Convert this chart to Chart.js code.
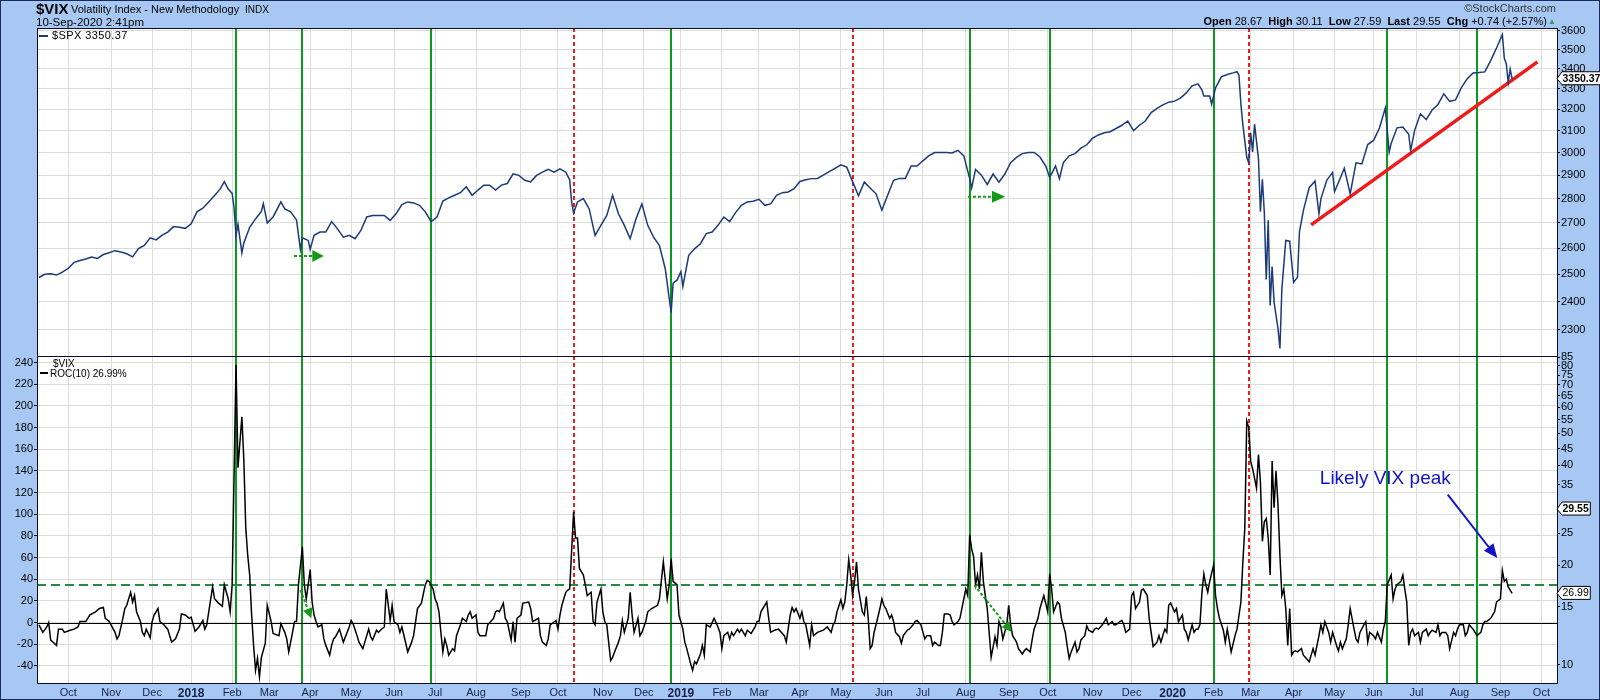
<!DOCTYPE html>
<html><head><meta charset="utf-8">
<script src="https://cdn.jsdelivr.net/npm/chart.js@4.4.1/dist/chart.umd.min.js"></script>
<style>
html,body{margin:0;padding:0;}
body{width:1600px;height:700px;background:#a7c8f2;position:relative;overflow:hidden;font-family:"Liberation Sans",Arial,sans-serif;}
#frame{position:absolute;left:0;top:0;width:1598px;height:698px;border:1px solid #1b2a5c;}
canvas{position:absolute;left:0;top:0;}
.t{position:absolute;white-space:nowrap;color:#000;line-height:1;z-index:5;}
</style></head><body>
<div id="frame"></div>
<canvas id="bot" width="1600" height="700"></canvas>
<canvas id="top" width="1600" height="700"></canvas>
<div class="t" style="left:36px;top:1px;font-size:15px;font-weight:bold">$VIX</div>
<div class="t" style="left:71px;top:4px;font-size:11px">Volatility Index - New Methodology</div>
<div class="t" style="left:245px;top:5px;font-size:10px">INDX</div>
<div class="t" style="left:36px;top:17px;font-size:11.5px">10-Sep-2020 2:41pm</div>
<div class="t" style="right:44px;top:3px;font-size:11px;color:#333">©StockCharts.com</div>
<div class="t" style="right:53px;top:16px;font-size:11px"><b>Open</b> 28.67 &nbsp;<b>High</b> 30.11 &nbsp;<b>Low</b> 27.59 &nbsp;<b>Last</b> 29.55 &nbsp;<b>Chg</b> +0.74 (+2.57%)</div>
<div class="t" style="left:1548px;top:18px;font-size:8px;color:#2f9a6a">▲</div>
<div class="t" style="left:39px;top:35px;width:9px;height:2px;background:#1b3a78"></div>
<div class="t" style="left:52px;top:30px;font-size:11px;letter-spacing:0.4px">$SPX 3350.37</div>
<div class="t" style="left:53px;top:359px;font-size:10px">$VIX</div>
<div class="t" style="left:40px;top:372px;width:8px;height:2px;background:#000"></div>
<div class="t" style="left:50px;top:369px;font-size:10px">ROC(10) 26.99%</div>
<script>
// ---------- calendar (trading days) ----------
const holidays = ['2017-11-23','2017-12-25','2018-01-01','2018-01-15','2018-02-19','2018-03-30','2018-05-28','2018-07-04','2018-09-03','2018-11-22','2018-12-05','2018-12-25','2019-01-01','2019-01-21','2019-02-18','2019-04-19','2019-05-27','2019-07-04','2019-09-02','2019-11-28','2019-12-25','2020-01-01','2020-01-20','2020-02-17','2020-04-10','2020-05-25','2020-07-03','2020-09-07'];
function buildCalendar(){
  const out=[]; let t=Date.UTC(2017,8,11); const end=Date.UTC(2020,9,30);
  while(t<=end){ const d=new Date(t); const wd=d.getUTCDay(); const s=d.toISOString().slice(0,10);
    if(wd!==0&&wd!==6&&!holidays.includes(s)) out.push(s); t+=86400000; }
  return out;
}
const calendar = buildCalendar();
const dayIndex = s => calendar.indexOf(s);
const monthNames=['Jan','Feb','Mar','Apr','May','Jun','Jul','Aug','Sep','Oct','Nov','Dec'];
const monthTicks=[]; const monthLabel={}; const isYear={};
for(let i=1;i<calendar.length;i++){
  if(calendar[i].slice(0,7)!==calendar[i-1].slice(0,7)){
    const m=+calendar[i].slice(5,7);
    monthTicks.push(i); monthLabel[i]= m===1?calendar[i].slice(0,4):monthNames[m-1]; isYear[i]=(m===1);
  }
}
const xMin=-1, xMax=778;

// ---------- data: [trading day since 2017-09-11, value] ----------
const spxSeries=[[0,2488],[3,2500],[6,2502],[9,2497],[12,2508],[15,2522],[18,2545],[21,2552],[24,2558],[27,2565],[30,2560],[33,2575],[36,2582],[39,2590],[42,2585],[45,2578],[48,2566],[51,2598],[54,2610],[57,2640],[60,2632],[63,2650],[66,2663],[69,2685],[72,2682],[75,2678],[78,2696],[81,2745],[84,2760],[87,2786],[90,2813],[93,2842],[95,2872],[97,2840],[99,2822],[100,2762],[101,2649],[102,2695],[104,2581],[105,2620],[108,2682],[111,2716],[114,2747],[115,2779],[117,2700],[120,2724],[124,2786],[126,2757],[129,2745],[132,2712],[134,2595],[135,2640],[138,2630],[139,2595],[141,2650],[144,2663],[147,2663],[150,2705],[153,2676],[156,2643],[159,2650],[162,2637],[165,2670],[168,2724],[171,2730],[174,2730],[177,2730],[180,2710],[183,2737],[186,2775],[189,2786],[192,2782],[195,2772],[198,2745],[201,2705],[204,2724],[207,2790],[210,2803],[213,2814],[216,2825],[219,2850],[222,2814],[225,2836],[228,2857],[231,2857],[234,2836],[237,2857],[240,2864],[243,2906],[246,2899],[249,2878],[252,2871],[255,2899],[258,2913],[261,2925],[264,2913],[267,2928],[270,2913],[272,2880],[273,2786],[274,2740],[276,2786],[279,2800],[282,2757],[285,2650],[288,2690],[291,2730],[294,2814],[297,2737],[300,2690],[303,2637],[306,2717],[309,2778],[312,2690],[315,2643],[318,2610],[321,2520],[324,2360],[325,2467],[327,2478],[329,2510],[330,2455],[333,2572],[336,2597],[339,2617],[342,2657],[345,2663],[348,2690],[351,2724],[354,2705],[357,2742],[360,2772],[363,2786],[366,2789],[369,2797],[372,2772],[375,2778],[378,2814],[381,2825],[384,2828],[387,2842],[390,2873],[393,2880],[396,2885],[399,2886],[402,2900],[405,2915],[408,2930],[411,2945],[414,2935],[417,2872],[420,2812],[423,2870],[426,2845],[429,2820],[432,2752],[435,2815],[438,2878],[441,2886],[444,2886],[447,2940],[450,2940],[453,2963],[456,2985],[459,3000],[462,3000],[465,3000],[468,2998],[471,3010],[474,2985],[477,2885],[478,2845],[480,2925],[483,2900],[486,2860],[489,2905],[492,2870],[495,2905],[498,2955],[501,2978],[504,2995],[507,3000],[510,3000],[513,2980],[516,2940],[518,2890],[521,2940],[523,2885],[525,2955],[528,2985],[531,2995],[534,3020],[537,3035],[540,3065],[543,3080],[546,3090],[549,3095],[552,3110],[555,3125],[558,3145],[561,3100],[564,3125],[567,3145],[570,3185],[573,3205],[576,3222],[579,3235],[582,3240],[585,3255],[588,3280],[591,3315],[594,3325],[596,3295],[597,3265],[600,3265],[601,3225],[603,3305],[606,3360],[609,3372],[612,3380],[614,3386],[615,3368],[616,3225],[617,3128],[619,2979],[620,2954],[621,3090],[622,3003],[623,3130],[625,2972],[626,2746],[627,2882],[628,2741],[629,2481],[630,2711],[631,2386],[632,2529],[633,2398],[635,2305],[636,2237],[637,2447],[639,2630],[641,2627],[643,2470],[645,2489],[646,2664],[648,2750],[651,2846],[654,2875],[656,2737],[657,2799],[660,2878],[663,2912],[664,2830],[666,2868],[669,2930],[672,2820],[675,2954],[678,2949],[681,3036],[684,3055],[687,3112],[690,3207],[692,3002],[693,3041],[696,3113],[699,3117],[702,3083],[703,3009],[705,3100],[708,3179],[711,3152],[714,3197],[717,3224],[720,3276],[723,3239],[726,3246],[729,3306],[732,3351],[735,3380],[738,3382],[741,3385],[744,3443],[747,3508],[750,3580],[751,3455],[752,3427],[753,3332],[754,3399],[755,3350]];

const rocSeries=[[0,-2],[2,-9],[4,-4],[5,0],[6,-16],[9,-21],[10,-6],[12,-6],[13,-9],[16,-7],[18,-6],[20,-4],[21,1],[24,1],[25,4],[26,7],[29,10],[31,13],[33,14],[34,4],[36,1],[39,-9],[40,-15],[41,-12],[43,4],[44,13],[45,16],[47,28],[48,19],[49,25],[50,10],[52,1],[53,-9],[54,-12],[55,-6],[57,-14],[58,1],[59,7],[61,13],[62,1],[64,-2],[66,-6],[68,-18],[70,-15],[72,-6],[73,8],[75,7],[77,4],[78,5],[80,-8],[82,-4],[84,2],[85,-6],[86,-2],[89,33],[90,22],[92,18],[94,15],[95,35],[97,22],[98,10],[99,35],[101,238],[102,143],[104,190],[105,150],[106,87],[107,62],[108,44],[109,7],[110,-21],[111,-44],[112,-33],[113,-50],[114,-32],[116,-19],[117,16],[119,1],[120,-10],[123,-12],[124,-1],[126,-9],[127,-15],[128,-27],[129,-18],[131,1],[132,1],[133,35],[135,70],[136,35],[137,22],[138,35],[139,49],[140,19],[141,7],[142,1],[143,-4],[145,-2],[146,-15],[147,-21],[149,-30],[150,-21],[151,-15],[152,-13],[154,-6],[156,-18],[159,-4],[160,2],[161,-1],[163,-12],[164,-18],[166,-24],[167,-18],[169,-6],[170,-13],[171,-16],[173,-7],[174,-9],[175,-7],[177,-4],[178,31],[180,2],[181,16],[182,1],[184,-2],[185,-9],[186,-4],[188,-19],[189,-27],[191,-18],[192,-12],[194,13],[196,18],[198,35],[199,39],[200,38],[202,31],[203,22],[204,18],[205,10],[206,-9],[207,-27],[208,-15],[209,-21],[210,-30],[212,-24],[213,-26],[214,-12],[216,-2],[217,4],[219,1],[220,7],[221,10],[222,4],[224,7],[225,-9],[226,-12],[229,-12],[230,-2],[233,4],[234,10],[235,11],[236,10],[238,18],[239,4],[240,1],[242,-16],[243,1],[244,-18],[245,4],[247,7],[248,18],[251,19],[252,13],[253,1],[256,4],[257,-12],[258,-18],[260,-21],[261,-15],[262,-2],[265,2],[266,-6],[267,7],[268,16],[270,28],[271,30],[272,31],[274,102],[275,78],[276,78],[277,50],[279,44],[280,35],[281,25],[283,28],[284,1],[285,-2],[286,19],[288,31],[289,10],[290,1],[291,-2],[293,-35],[294,-32],[295,-27],[297,-18],[298,-12],[299,2],[300,-9],[302,4],[303,28],[304,7],[305,-9],[307,4],[308,-12],[309,-9],[311,1],[312,10],[314,13],[317,16],[318,22],[320,56],[322,22],[323,35],[324,59],[325,38],[327,35],[328,7],[330,-6],[331,-18],[332,-24],[334,-38],[335,-44],[336,-36],[337,-38],[339,-29],[340,-21],[341,-30],[342,-2],[344,-4],[346,4],[348,-4],[349,-9],[350,-24],[351,-12],[353,-9],[354,-15],[355,-9],[356,-12],[358,-6],[359,-9],[360,-6],[362,-12],[363,-7],[365,-10],[367,-4],[368,1],[369,1],[370,10],[373,19],[374,4],[375,-9],[377,-7],[379,-6],[381,-10],[382,-12],[383,-18],[385,7],[386,14],[387,10],[388,13],[390,4],[391,10],[392,1],[393,-2],[395,-21],[396,-2],[397,-12],[399,-9],[402,-7],[404,-4],[406,-9],[407,-2],[408,1],[409,10],[411,21],[412,13],[413,19],[414,35],[415,58],[416,44],[417,25],[418,38],[419,56],[420,31],[422,10],[423,7],[424,24],[425,4],[426,-24],[427,-21],[428,-9],[429,-2],[431,13],[432,22],[433,16],[434,13],[436,4],[437,7],[438,1],[439,-9],[441,-13],[442,-19],[443,-12],[445,-7],[446,-6],[448,-2],[449,1],[450,2],[452,-2],[454,-15],[455,-12],[457,-12],[458,-21],[459,-18],[461,-21],[462,-21],[463,-9],[464,8],[466,8],[467,7],[468,1],[469,-2],[471,1],[472,4],[473,13],[475,31],[476,25],[477,81],[478,68],[479,61],[480,35],[481,44],[482,31],[483,65],[484,38],[485,25],[486,13],[488,-32],[490,-13],[491,-21],[492,1],[493,-4],[494,-15],[496,-2],[497,16],[498,-2],[499,-12],[501,-18],[502,-24],[504,-29],[505,-26],[506,-24],[508,-27],[509,-16],[510,-6],[512,4],[513,13],[514,19],[515,25],[517,10],[518,45],[519,31],[520,10],[522,19],[523,17],[524,4],[526,-9],[527,-22],[528,-33],[529,-27],[531,-18],[532,-27],[533,-24],[534,-16],[536,-12],[537,-3],[538,-7],[540,-9],[541,-6],[542,-5],[543,-6],[545,-2],[546,1],[547,4],[548,-2],[550,1],[551,-2],[552,-2],[554,1],[555,2],[556,-2],[557,-9],[559,-6],[560,25],[561,28],[562,13],[564,19],[565,30],[566,31],[568,25],[569,4],[570,-9],[571,-22],[573,-18],[574,-12],[575,-18],[577,-6],[578,-9],[579,16],[580,18],[582,10],[583,13],[584,1],[586,7],[587,-6],[588,-9],[589,-16],[591,-2],[592,-9],[593,-6],[594,-6],[595,-2],[596,27],[597,45],[598,35],[599,28],[600,38],[602,53],[603,25],[604,13],[605,4],[607,-7],[608,-18],[609,-6],[610,-16],[611,-27],[613,-12],[614,-6],[616,19],[617,56],[618,87],[619,186],[620,180],[621,149],[622,142],[624,124],[625,155],[626,130],[627,75],[628,93],[629,96],[630,78],[631,44],[632,149],[633,106],[634,140],[635,109],[636,62],[637,25],[638,31],[639,13],[640,-21],[641,13],[642,-30],[643,-27],[644,-26],[645,-27],[647,-24],[648,-30],[649,-32],[651,-36],[652,-30],[653,-24],[654,-30],[656,-12],[657,-2],[658,-9],[659,1],[661,-9],[662,-18],[663,-9],[665,-21],[666,-26],[667,-18],[668,-24],[670,-15],[671,-2],[672,13],[674,-6],[675,-15],[676,-18],[677,-9],[679,-2],[680,1],[681,-18],[682,-9],[684,-12],[685,-15],[686,-9],[688,-18],[689,-6],[690,1],[691,35],[693,44],[694,22],[695,31],[696,35],[698,38],[699,44],[700,31],[701,19],[702,-21],[703,-9],[704,-6],[705,-12],[707,-9],[708,-18],[709,-9],[711,-6],[712,-12],[713,-9],[714,-7],[716,-9],[717,-2],[718,-12],[719,-9],[721,-9],[722,-12],[723,-24],[725,-9],[726,-12],[727,-6],[728,-2],[730,-2],[731,-12],[732,-9],[733,-2],[735,-6],[736,-9],[737,-12],[739,-9],[740,-2],[741,1],[742,1],[744,4],[745,7],[746,10],[747,19],[749,22],[750,48],[751,38],[752,40],[753,33],[754,30],[755,27]];

const spxTicks=[2300,2400,2500,2600,2700,2800,2900,3000,3100,3200,3300,3400,3500,3600];
const rocTicks=[-40,-20,0,20,40,60,80,100,120,140,160,180,200,220,240];
const vixTicks=[10,15,20,25,35,40,45,50,55,60,65,70,75,80,85];
const spxLast=3350.37, vixLast=29.55, rocLast=26.99;
const rocSignal=35;
const eventDates=['2018-02-05','2018-03-26','2018-06-28','2018-10-11','2018-12-24','2019-05-09','2019-08-05','2019-10-02','2020-02-03','2020-02-28','2020-06-10','2020-08-14'];
const eventKinds=['g','g','g','r','g','r','g','g','g','r','g','g'];
const trendDays=[652,768], trendVals=[2692,3436];
const spxArrows=[[130.7,140.1,146,2569],[476.1,488.4,495.2,2808]];
const rocArrows=[[134,30,139.6,4],[479.4,34.5,498.5,-8.7]];
const noteText='Likely VIX peak', notePos=[690,133], noteArrow=[722,118,747.4,59.6];

// ---------- drawing helpers ----------
const FONT='"Liberation Sans", Arial, sans-serif';
const GRID='#dcdcdc';
function arrow(ctx,x1,y1,x2,y2,color,width,dash,head,half){
  const a=Math.atan2(y2-y1,x2-x1);
  const hx=x2-head*Math.cos(a), hy=y2-head*Math.sin(a);
  ctx.save(); ctx.strokeStyle=color; ctx.fillStyle=color; ctx.lineWidth=width; ctx.setLineDash(dash);
  ctx.beginPath(); ctx.moveTo(x1,y1); ctx.lineTo(hx,hy); ctx.stroke(); ctx.setLineDash([]);
  ctx.beginPath(); ctx.moveTo(x2,y2);
  ctx.lineTo(hx+half*Math.sin(a),hy-half*Math.cos(a)); ctx.lineTo(hx-half*Math.sin(a),hy+half*Math.cos(a));
  ctx.closePath(); ctx.fill(); ctx.restore();
}
function valueBox(ctx,x,y,text,bold){
  ctx.save(); ctx.font=(bold?'bold ':'')+'10.5px '+FONT;
  const w=ctx.measureText(text).width;
  ctx.beginPath(); ctx.moveTo(x,y); ctx.lineTo(x+5,y-7); ctx.lineTo(x+7+w,y-7); ctx.lineTo(x+7+w,y+6); ctx.lineTo(x+5,y+6); ctx.closePath();
  ctx.fillStyle='#fff'; ctx.fill(); ctx.strokeStyle='#000'; ctx.lineWidth=1; ctx.stroke();
  ctx.fillStyle='#000'; ctx.textBaseline='middle'; ctx.fillText(text,x+5.5,y); ctx.restore();
}
const framePlugin={id:'frame',
  beforeDraw(c){const a=c.chartArea,ctx=c.ctx;ctx.save();ctx.fillStyle='#fff';ctx.fillRect(a.left,a.top,a.right-a.left,a.bottom-a.top);ctx.restore();},
  afterDraw(c){const a=c.chartArea,ctx=c.ctx;ctx.save();ctx.strokeStyle='#0a0a2a';ctx.lineWidth=1;
    ctx.strokeRect(Math.round(a.left)+0.5,Math.round(a.top)+0.5,Math.round(a.right-a.left),Math.round(a.bottom-a.top));ctx.restore();}
};
const eventPlugin={id:'events',
  beforeDatasetsDraw(c){const a=c.chartArea,ctx=c.ctx;ctx.save();ctx.lineWidth=2;
    eventDates.forEach((d,i)=>{const x=Math.round(c.scales.x.getPixelForValue(dayIndex(d)));
      ctx.beginPath(); if(eventKinds[i]==='r'){ctx.strokeStyle='#e3211c';ctx.setLineDash([4,3]);}else{ctx.strokeStyle='#0b9a1e';ctx.setLineDash([]);}
      ctx.moveTo(x,a.top);ctx.lineTo(x,a.bottom);ctx.stroke();});
    ctx.restore();}
};
const xTicksBuild=s=>{s.ticks=monthTicks.map(v=>({value:v}));};

// ---------- top panel: $SPX ----------
const topAnno={id:'topAnno',
  afterDatasetsDraw(c){const ctx=c.ctx,X=c.scales.x,Y=c.scales.y;
    spxArrows.forEach(a=>{const y=Y.getPixelForValue(a[3]);
      arrow(ctx,X.getPixelForValue(a[0]),y,X.getPixelForValue(a[2]),y,'#14991a',2,[3,2],X.getPixelForValue(a[2])-X.getPixelForValue(a[1]),6);});},
  afterDraw(c){valueBox(c.ctx,c.chartArea.right,c.scales.y.getPixelForValue(spxLast),spxLast.toFixed(2),true);}
};
new Chart(document.getElementById('top'),{
  type:'line',
  data:{datasets:[
    {data:spxSeries.map(p=>({x:p[0],y:p[1]})),borderColor:'#1b3a78',borderWidth:1.5,pointRadius:0,tension:0},
    {data:trendDays.map((d,i)=>({x:d,y:trendVals[i]})),borderColor:'#f01a1a',borderWidth:3.5,pointRadius:0}
  ]},
  options:{responsive:false,animation:false,devicePixelRatio:1,
    layout:{padding:{left:37,top:28,right:0,bottom:344}},
    plugins:{legend:{display:false},tooltip:{enabled:false}},
    scales:{
      x:{type:'linear',min:xMin,max:xMax,afterBuildTicks:xTicksBuild,ticks:{display:false},
         grid:{color:GRID,drawTicks:false},border:{display:false},afterFit:s=>{s.height=0;}},
      y:{type:'logarithmic',position:'right',min:2212,max:3615,afterBuildTicks:s=>{s.ticks=spxTicks.map(v=>({value:v}));},
         ticks:{callback:v=>String(v),font:{family:FONT,size:11},color:'#000',padding:1},
         grid:{color:GRID,tickColor:'#000',tickLength:3},border:{color:'#000'},afterFit:s=>{s.width=43;}}
    }},
  plugins:[framePlugin,eventPlugin,topAnno]
});

// ---------- bottom panel: $VIX ROC(10) ----------
const botAnno={id:'botAnno',
  beforeDatasetsDraw(c){const ctx=c.ctx,a=c.chartArea,Y=c.scales.y;
    ctx.save();
    let y=Math.round(Y.getPixelForValue(0))+0.5; ctx.strokeStyle='#000';ctx.lineWidth=1;ctx.beginPath();ctx.moveTo(a.left,y);ctx.lineTo(a.right,y);ctx.stroke();
    y=Math.round(Y.getPixelForValue(rocSignal)); ctx.strokeStyle='#2a8a3c';ctx.lineWidth=2;ctx.setLineDash([9,5]);ctx.beginPath();ctx.moveTo(a.left,y);ctx.lineTo(a.right,y);ctx.stroke();
    ctx.restore();},
  afterDatasetsDraw(c){const ctx=c.ctx,X=c.scales.x,Y=c.scales.y;
    rocArrows.forEach(r=>arrow(ctx,X.getPixelForValue(r[0]),Y.getPixelForValue(r[1]),X.getPixelForValue(r[2]),Y.getPixelForValue(r[3]),'#14991a',2,[3,2],10,5));
    ctx.save();ctx.font='19px '+FONT;ctx.fillStyle='#1212c8';ctx.textAlign='center';ctx.textBaseline='middle';
    ctx.fillText(noteText,X.getPixelForValue(notePos[0]),Y.getPixelForValue(notePos[1]));ctx.restore();
    arrow(ctx,X.getPixelForValue(noteArrow[0]),Y.getPixelForValue(noteArrow[1]),X.getPixelForValue(noteArrow[2]),Y.getPixelForValue(noteArrow[3]),'#1212c8',2,[],14,6);},
  afterDraw(c){const r=c.chartArea.right;
    valueBox(c.ctx,r,c.scales.yv.getPixelForValue(vixLast),vixLast.toFixed(2),true);
    valueBox(c.ctx,r,c.scales.y.getPixelForValue(rocLast),rocLast.toFixed(2),false);}
};
new Chart(document.getElementById('bot'),{
  type:'line',
  data:{datasets:[{data:rocSeries.map(p=>({x:p[0],y:p[1]})),borderColor:'#000',borderWidth:1.5,pointRadius:0,tension:0,yAxisID:'y'}]},
  options:{responsive:false,animation:false,devicePixelRatio:1,
    layout:{padding:{left:0,top:356,right:0,bottom:0}},
    plugins:{legend:{display:false},tooltip:{enabled:false}},
    scales:{
      x:{type:'linear',min:xMin,max:xMax,afterBuildTicks:xTicksBuild,
         ticks:{autoSkip:false,maxRotation:0,padding:3,color:'#16204a',callback:v=>monthLabel[v]||'',
           font:c=>({family:FONT,size:isYear[c.tick&&c.tick.value]?12:11,weight:isYear[c.tick&&c.tick.value]?'bold':'normal'})},
         grid:{color:GRID,drawTicks:false},border:{display:false},afterFit:s=>{s.height=17;}},
      y:{type:'linear',position:'left',min:-55.7,max:246,afterBuildTicks:s=>{s.ticks=rocTicks.map(v=>({value:v}));},
         ticks:{callback:v=>String(v),font:{family:FONT,size:11},color:'#000',padding:1},
         grid:{color:GRID,tickColor:'#000',tickLength:3},border:{display:false},afterFit:s=>{s.width=37;}},
      yv:{type:'logarithmic',position:'right',min:8.82,max:85.6,afterBuildTicks:s=>{s.ticks=vixTicks.map(v=>({value:v}));},
         ticks:{callback:v=>String(v),font:{family:FONT,size:11},color:'#000',padding:1},
         grid:{drawOnChartArea:false,tickColor:'#000',tickLength:3},border:{color:'#000'},afterFit:s=>{s.width=43;}}
    }},
  plugins:[framePlugin,eventPlugin,botAnno]
});
</script>
</body></html>
